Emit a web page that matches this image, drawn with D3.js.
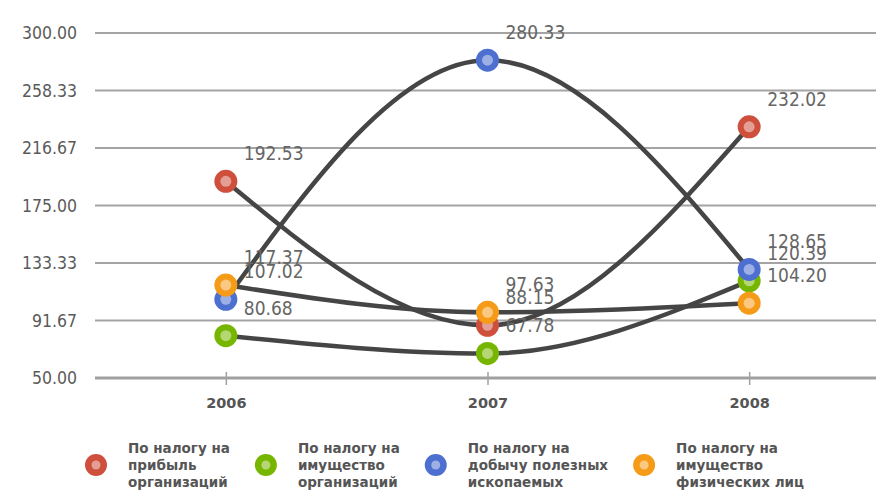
<!DOCTYPE html>
<html>
<head>
<meta charset="utf-8">
<script src="https://cdn.jsdelivr.net/npm/d3@7"></script>
<style>
  html, body { margin: 0; padding: 0; background: #fff; }
  svg { display: block; }
</style>
</head>
<body>
<svg id="chart" width="876" height="493"></svg>
<script>
const categories = ["2006", "2007", "2008"];
const seriesNames = [
  ["По налогу на", "прибыль", "организаций"],
  ["По налогу на", "имущество", "организаций"],
  ["По налогу на", "добычу полезных", "ископаемых"],
  ["По налогу на", "имущество", "физических лиц"]
];
const profitTax = [192.53, 88.15, 232.02];
const propertyOrgTax = [80.68, 67.78, 120.39];
const miningTax = [107.02, 280.33, 128.65];
const propertyPersonTax = [117.37, 97.63, 104.20];
const yTicks = [50.00, 91.67, 133.33, 175.00, 216.67, 258.33, 300.00];
const colors = ["#cd4f3c", "#76b600", "#4c6fd0", "#f59b18"];

const series = [profitTax, propertyOrgTax, miningTax, propertyPersonTax].map((vals, i) => ({
  name: seriesNames[i], color: colors[i],
  points: vals.map((v, j) => ({ cat: categories[j], v }))
}));

const svg = d3.select("#chart");
const fontTick = "'DejaVu Sans Condensed', 'DejaVu Sans', sans-serif";
const fontBold = "'DejaVu Sans', Verdana, sans-serif";

const x = d3.scalePoint().domain(categories).range([95, 880]).padding(0.5);
const y = d3.scaleLinear().domain([50, 300]).range([378, 33]);

// grid
svg.append("g").selectAll("line").data(yTicks.slice(1)).join("line")
  .attr("x1", 95).attr("x2", 876)
  .attr("y1", d => y(d)).attr("y2", d => y(d))
  .attr("stroke", "#a4a4a4").attr("stroke-width", 2);

// y tick labels
svg.append("g").selectAll("text").data(yTicks).join("text")
  .attr("x", 77).attr("y", d => y(d)).attr("dy", "0.36em")
  .attr("text-anchor", "end")
  .attr("font-family", fontTick).attr("font-size", 17.5)
  .attr("fill", "#5a5a5a")
  .text(d => d3.format(".2f")(d));

// x axis
const xAxis = svg.append("g").attr("transform", `translate(0,${y(50)})`)
  .call(d3.axisBottom(x).tickSize(8).tickSizeOuter(0));
xAxis.select(".domain").remove();
xAxis.selectAll(".tick line").attr("y1", -6).attr("y2", 7).attr("stroke", "#a0a0a0").attr("stroke-width", 1.5);
xAxis.selectAll(".tick text").attr("y", 25).attr("dy", "0.36em")
  .attr("font-family", fontBold).attr("font-weight", "bold").attr("font-size", 14.5)
  .attr("fill", "#555");
svg.append("line").attr("x1", 95).attr("x2", 876).attr("y1", y(50)).attr("y2", y(50))
  .attr("stroke", "#a0a0a0").attr("stroke-width", 3);

// lines
const line = d3.line().x(d => x(d.cat)).y(d => y(d.v)).curve(d3.curveMonotoneX);
svg.append("g").selectAll("path").data(series).join("path")
  .attr("d", d => line(d.points))
  .attr("fill", "none").attr("stroke", "#454545").attr("stroke-width", 4.5);

// markers
const lighten = c => d3.interpolateRgb(c, "#ffffff")(0.45);
const mk = svg.append("g").selectAll("g").data(series).join("g");
mk.selectAll("circle.o").data(d => d.points.map(p => ({ ...p, color: d.color }))).join("circle")
  .attr("class", "o").attr("cx", d => x(d.cat)).attr("cy", d => y(d.v)).attr("r", 11.5)
  .attr("fill", d => d.color);
mk.selectAll("circle.i").data(d => d.points.map(p => ({ ...p, color: d.color }))).join("circle")
  .attr("class", "i").attr("cx", d => x(d.cat)).attr("cy", d => y(d.v)).attr("r", 5.5)
  .attr("fill", d => lighten(d.color));

// data labels
const labels = series.flatMap(s => s.points);
svg.append("g").selectAll("text").data(labels).join("text")
  .attr("x", d => x(d.cat) + 18).attr("y", d => y(d.v) - 28).attr("dy", "0.36em")
  .attr("font-family", fontTick).attr("font-size", 19)
  .attr("fill", "#666")
  .text(d => d3.format(".2f")(d.v));

// legend
const leg = svg.append("g");
let cx = 96;
series.forEach((s, i) => {
  leg.append("circle").attr("cx", cx).attr("cy", 465).attr("r", 11).attr("fill", s.color);
  leg.append("circle").attr("cx", cx).attr("cy", 465).attr("r", 4.5).attr("fill", lighten(s.color));
  const t = leg.append("text").attr("x", cx + 32).attr("y", 448)
    .attr("font-family", fontBold).attr("font-weight", "bold").attr("font-size", 13.5)
    .attr("fill", "#555");
  s.name.forEach((ln, k) => {
    t.append("tspan").attr("x", cx + 32).attr("y", 448 + k * 17).attr("dy", "0.36em").text(ln);
  });
  const w = d3.max(t.selectAll("tspan").nodes(), n => n.getComputedTextLength());
  cx = cx + 32 + w + 36;
});
</script>
</body>
</html>
